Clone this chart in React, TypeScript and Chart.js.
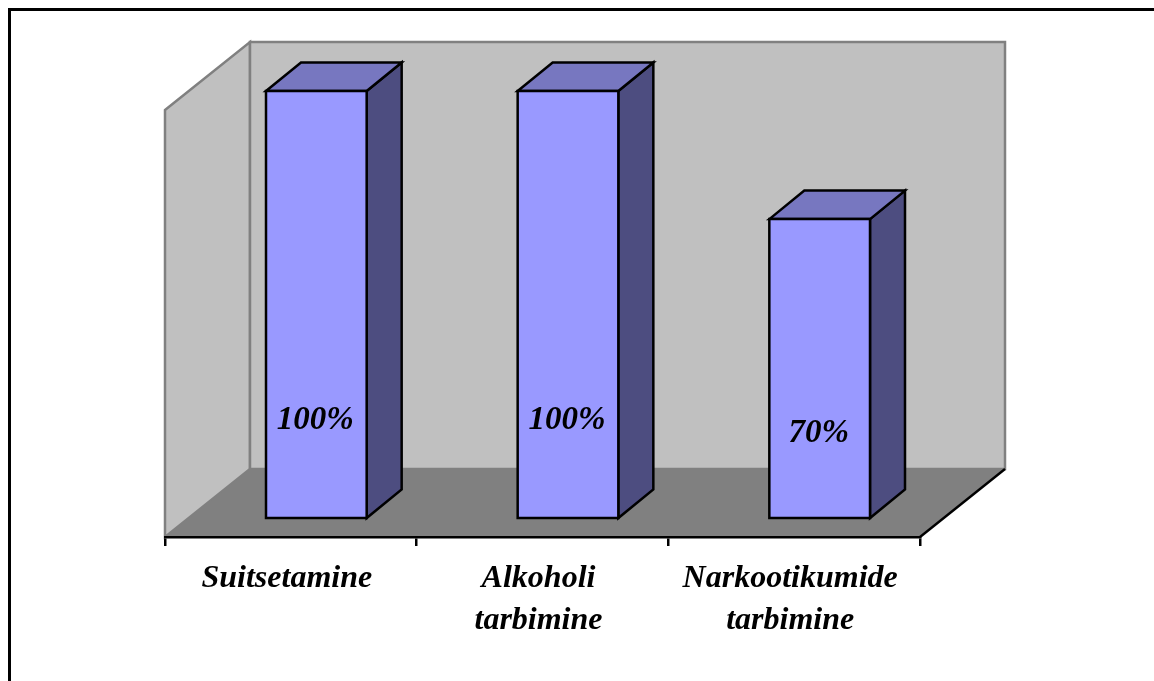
import React, { useEffect, useRef } from "react";
import { Chart, registerables } from "chart.js";

Chart.register(...registerables);

const categories: string[][] = [["Suitsetamine"], ["Alkoholi", "tarbimine"], ["Narkootikumide", "tarbimine"]];
const values: number[] = [100, 100, 70];
const valueMin = 0;
const valueMax = 100;

const FONT_FAMILY = "'Liberation Serif', 'Times New Roman', Times, serif";

// oblique 3D projection offsets (pixels)
const WALL_DEPTH = { x: 85, y: -68 };
const BAR_FRONT = { x: 25.5, y: -19 };
const BAR_BACK = { x: 60.5, y: -47.5 };

const COLORS = {
  wall: "#c0c0c0",
  wallEdge: "#808080",
  floor: "#808080",
  front: "#9999ff",
  top: "#7777c0",
  side: "#4d4d80",
  edge: "#000000",
};

const wallsPlugin = {
  id: "walls3d",
  beforeDraw(chart: any) {
    const { ctx, chartArea } = chart;
    const L = chartArea.left, R = chartArea.right, T = chartArea.top, B = chartArea.bottom;
    const dx = WALL_DEPTH.x, dy = WALL_DEPTH.y;
    ctx.save();
    ctx.lineJoin = "miter";
    // floor
    ctx.beginPath();
    ctx.moveTo(L, B);
    ctx.lineTo(L + dx, B + dy);
    ctx.lineTo(R + dx, B + dy);
    ctx.lineTo(R, B);
    ctx.closePath();
    ctx.fillStyle = COLORS.floor;
    ctx.fill();
    // side wall
    ctx.beginPath();
    ctx.moveTo(L, T);
    ctx.lineTo(L + dx, T + dy);
    ctx.lineTo(L + dx, B + dy);
    ctx.lineTo(L, B);
    ctx.closePath();
    ctx.fillStyle = COLORS.wall;
    ctx.fill();
    ctx.strokeStyle = COLORS.wallEdge;
    ctx.lineWidth = 2.5;
    ctx.stroke();
    // back wall
    ctx.beginPath();
    ctx.rect(L + dx, T + dy, R - L, B - T);
    ctx.fillStyle = COLORS.wall;
    ctx.fill();
    ctx.strokeStyle = COLORS.wallEdge;
    ctx.lineWidth = 2.5;
    ctx.stroke();
    // floor right edge
    ctx.beginPath();
    ctx.moveTo(R, B);
    ctx.lineTo(R + dx, B + dy);
    ctx.strokeStyle = "#000";
    ctx.lineWidth = 2.5;
    ctx.stroke();
    ctx.restore();
  },
};

const bars3dPlugin = {
  id: "bars3d",
  afterDatasetsDraw(chart: any) {
    const { ctx } = chart;
    const meta = chart.getDatasetMeta(0);
    const data = chart.data.datasets[0].data as number[];
    ctx.save();
    ctx.lineWidth = 2.5;
    ctx.lineJoin = "miter";
    ctx.strokeStyle = COLORS.edge;
    meta.data.forEach((bar: any, i: number) => {
      const p = bar.getProps(["x", "y", "base", "width"], true);
      const l = p.x - p.width / 2;
      const r = p.x + p.width / 2;
      const t = p.y;
      const b = p.base;
      const F = BAR_FRONT, K = BAR_BACK;
      // side face
      ctx.beginPath();
      ctx.moveTo(r + F.x, t + F.y);
      ctx.lineTo(r + K.x, t + K.y);
      ctx.lineTo(r + K.x, b + K.y);
      ctx.lineTo(r + F.x, b + F.y);
      ctx.closePath();
      ctx.fillStyle = COLORS.side;
      ctx.fill();
      ctx.stroke();
      // top face
      ctx.beginPath();
      ctx.moveTo(l + F.x, t + F.y);
      ctx.lineTo(l + K.x, t + K.y);
      ctx.lineTo(r + K.x, t + K.y);
      ctx.lineTo(r + F.x, t + F.y);
      ctx.closePath();
      ctx.fillStyle = COLORS.top;
      ctx.fill();
      ctx.stroke();
      // front face
      ctx.beginPath();
      ctx.rect(l + F.x, t + F.y, r - l, b - t);
      ctx.fillStyle = COLORS.front;
      ctx.fill();
      ctx.stroke();
      // value label
      const h = b - t;
      const fb = b + F.y;
      ctx.fillStyle = "#000";
      ctx.font = `italic bold 33px ${FONT_FAMILY}`;
      ctx.textAlign = "center";
      ctx.textBaseline = "middle";
      ctx.fillText(`${data[i]}%`, p.x + F.x - 1, fb - 55 - 0.1 * h);
    });
    ctx.restore();
  },
};

export default function App() {
  const canvasRef = useRef<HTMLCanvasElement | null>(null);

  useEffect(() => {
    document.documentElement.style.overflow = "hidden";
    document.body.style.overflow = "hidden";
    const canvas = canvasRef.current;
    if (!canvas) return;
    const chart = new Chart(canvas, {
      type: "bar",
      data: {
        labels: categories,
        datasets: [
          {
            data: values,
            backgroundColor: "rgba(0,0,0,0)",
            borderWidth: 0,
            barPercentage: 0.4,
            categoryPercentage: 1.0,
          },
        ],
      },
      options: {
        animation: false,
        responsive: false,
        devicePixelRatio: 1,
        layout: { padding: { left: 154, right: 234, top: 99, bottom: 0 } },
        plugins: {
          legend: { display: false },
          tooltip: { enabled: false },
          title: { display: false },
        },
        scales: {
          x: {
            type: "category",
            offset: true,
            afterFit: (scale: any) => {
              scale.height = 144;
            },
            grid: {
              display: true,
              offset: true,
              drawOnChartArea: false,
              drawTicks: true,
              tickLength: 9,
              color: "#000",
              lineWidth: 2.5,
            },
            border: { display: true, color: "#000", width: 2.5 },
            ticks: {
              color: "#000",
              padding: 12,
              labelOffset: -4,
              maxRotation: 0,
              autoSkip: false,
              font: { family: FONT_FAMILY, size: 32, style: "italic", weight: "bold", lineHeight: 1.3 },
            },
          },
          y: {
            display: false,
            min: valueMin,
            max: valueMax,
          },
        },
      },
      plugins: [wallsPlugin, bars3dPlugin],
    });
    return () => chart.destroy();
  }, []);

  return (
    <div
      style={{
        position: "fixed",
        left: 8,
        top: 8,
        width: 1146,
        height: 673,
        boxSizing: "border-box",
        borderTop: "3px solid #000",
        borderLeft: "3px solid #000",
        background: "#fff",
        overflow: "hidden",
      }}
    >
      <canvas ref={canvasRef} width={1143} height={670} style={{ display: "block" }} />
    </div>
  );
}
